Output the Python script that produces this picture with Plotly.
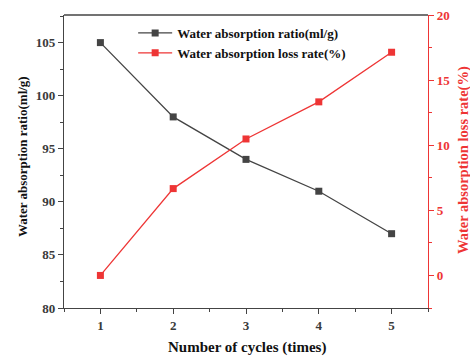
import plotly.graph_objects as go

cycles = [1, 2, 3, 4, 5]
absorption_ratio = [105, 98, 94, 91, 87]          # ml/g
absorption_loss = [0, 6.67, 10.48, 13.33, 17.14]  # %

black = "#444444"
red = "#ee3535"
font = "Liberation Serif"

fig = go.Figure()
fig.add_trace(go.Scatter(
    x=cycles, y=absorption_ratio, mode="lines+markers",
    name="Water absorption ratio(ml/g)",
    line=dict(color=black, width=1.3),
    marker=dict(symbol="square", size=7, color=black),
))
fig.add_trace(go.Scatter(
    x=cycles, y=absorption_loss, mode="lines+markers", yaxis="y2",
    name="Water absorption loss rate(%)",
    line=dict(color=red, width=1.3),
    marker=dict(symbol="square", size=7, color=red),
))

tick_font = dict(size=13, color="#3a3a3a", family=font, weight="bold")

fig.update_layout(
    width=470, height=358,
    margin=dict(l=64, r=42, t=15, b=50, autoexpand=False),
    paper_bgcolor="white", plot_bgcolor="white",
    font=dict(family=font, size=12, color="#222"),
    showlegend=True,
    legend=dict(x=0.19, y=0.99, xanchor="left", yanchor="top",
                bgcolor="rgba(0,0,0,0)",
                font=dict(size=13, color="#111", weight="bold"),
                tracegroupgap=0, itemwidth=34),
    xaxis=dict(
        range=[0.5, 5.5], tickvals=cycles, ticks="outside", ticklen=5,
        tickfont=tick_font, automargin=False,
        showline=True, linecolor=black, linewidth=1.3, mirror=False,
        showgrid=False, zeroline=False,
        minor=dict(dtick=0.5, tick0=0.5, ticks="outside", ticklen=3, tickcolor=black),
    ),
    yaxis=dict(
        range=[80, 107.6], tickvals=[80, 85, 90, 95, 100, 105], ticks="outside", ticklen=5,
        tickfont=tick_font, automargin=False,
        showline=True, linecolor=black, linewidth=1.3,
        showgrid=False, zeroline=False,
        minor=dict(dtick=2.5, tick0=80, ticks="outside", ticklen=3, tickcolor=black),
    ),
    yaxis2=dict(
        range=[-2.5, 20], tickvals=[0, 5, 10, 15, 20], overlaying="y", side="right",
        ticks="outside", ticklen=5, tickcolor=red, automargin=False,
        tickfont=dict(size=13, color=red, family=font, weight="bold"),
        showline=True, linecolor=red, linewidth=1.3,
        showgrid=False, zeroline=False,
        minor=dict(dtick=2.5, tick0=0, ticks="outside", ticklen=3, tickcolor=red),
    ),
)

# axis titles placed as annotations relative to the plot frame
fig.add_annotation(text="Number of cycles (times)", xref="paper", yref="paper",
                   x=0.503, y=0, xanchor="center", yanchor="middle", yshift=-39,
                   showarrow=False, font=dict(size=15, color="#111", weight="bold"))
fig.add_annotation(text="Water absorption ratio(ml/g)", xref="paper", yref="paper",
                   x=0, y=0.515, xanchor="center", yanchor="middle", xshift=-42,
                   textangle=-90, showarrow=False,
                   font=dict(size=13, color="#111", weight="bold"))
fig.add_annotation(text="Water absorption loss rate(%)", xref="paper", yref="paper",
                   x=1, y=0.505, xanchor="center", yanchor="middle", xshift=35,
                   textangle=-90, showarrow=False,
                   font=dict(size=14.5, color=red, weight="bold"))

# top frame line
fig.add_shape(type="line", xref="paper", yref="paper", x0=0, x1=1, y0=1, y1=1,
              line=dict(color=black, width=1.3))

fig.write_html("out.html")
